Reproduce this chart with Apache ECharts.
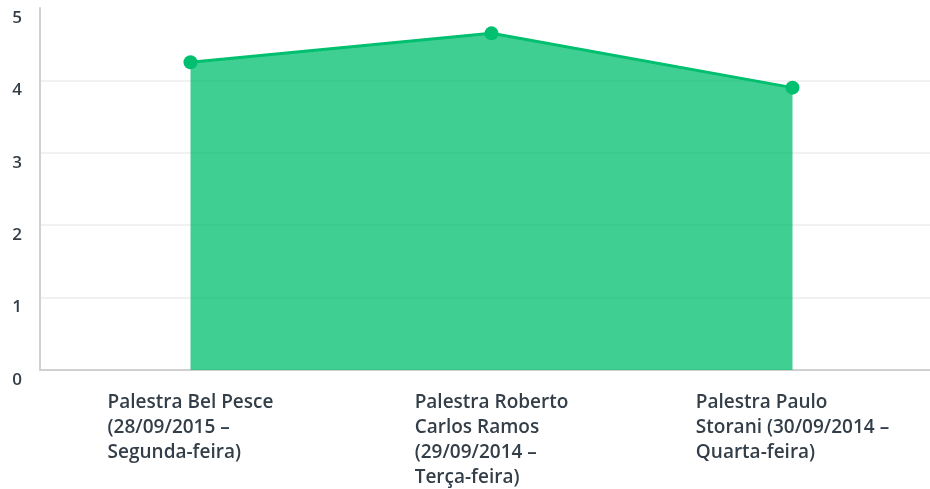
<!DOCTYPE html>
<html>
<head>
<meta charset="utf-8">
<script src="https://cdn.jsdelivr.net/npm/echarts@6/dist/echarts.min.js"></script>
<style>
  html, body { margin: 0; padding: 0; background: #fff; }
  #chart { width: 930px; height: 489px; }
</style>
</head>
<body>
<div id="chart"></div>
<script>
// categories, one line per entry (wrapped as in the reference)
const categories = [
  ['Palestra Bel Pesce', '(28/09/2015 –', 'Segunda-feira)'],
  ['Palestra Roberto', 'Carlos Ramos', '(29/09/2014 –', 'Terça-feira)'],
  ['Palestra Paulo', 'Storani (30/09/2014 –', 'Quarta-feira)'],
]
const values = [4.25, 4.65, 3.9]
const yTicks = [0, 1, 2, 3, 4, 5]

const textColor = '#333e48'
const green = '#00bf6f'

const chart = echarts.init(document.getElementById('chart'))

chart.setOption({
  animation: false,
  grid: {
    left: 40,
    top: 8,
    width: 903,
    height: 362,
    containLabel: false,
    outerBoundsMode: 'none',
  },
  xAxis: {
    type: 'category',
    boundaryGap: true,
    data: categories.map((lines) => lines.join('\n')),
    axisLine: { lineStyle: { color: '#d0d0d0', width: 2 } },
    axisTick: { show: false },
    axisLabel: {
      interval: 0,
      hideOverlap: false,
      margin: 20,
      color: textColor,
      fontFamily: 'Open Sans',
      fontSize: 19,
      fontWeight: 600,
      lineHeight: 25,
      formatter: (v) => v.split('\n').map((s) => '{l|' + s + '}').join('\n'),
      rich: {
        l: {
          align: 'left',
          color: textColor,
          fontFamily: 'Open Sans',
          fontSize: 19,
          fontWeight: 600,
          lineHeight: 25,
        },
      },
    },
  },
  yAxis: {
    type: 'value',
    min: yTicks[0],
    max: yTicks[yTicks.length - 1],
    interval: 1,
    axisLine: { show: true, lineStyle: { color: '#d0d0d0', width: 2 } },
    axisTick: { show: false },
    splitLine: {
      lineStyle: { color: '#ececec', width: 1.5 },
      showMaxLine: false,
    },
    axisLabel: {
      margin: 18,
      color: textColor,
      fontFamily: 'Open Sans',
      fontSize: 17,
      fontWeight: 600,
      verticalAlign: 'top',
      lineHeight: 20,
    },
  },
  series: [
    {
      type: 'line',
      data: values,
      symbol: 'circle',
      symbolSize: 14,
      lineStyle: { color: green, width: 3 },
      itemStyle: { color: green },
      areaStyle: { color: green, opacity: 0.75 },
      z: 3,
    },
  ],
})
</script>
</body>
</html>
